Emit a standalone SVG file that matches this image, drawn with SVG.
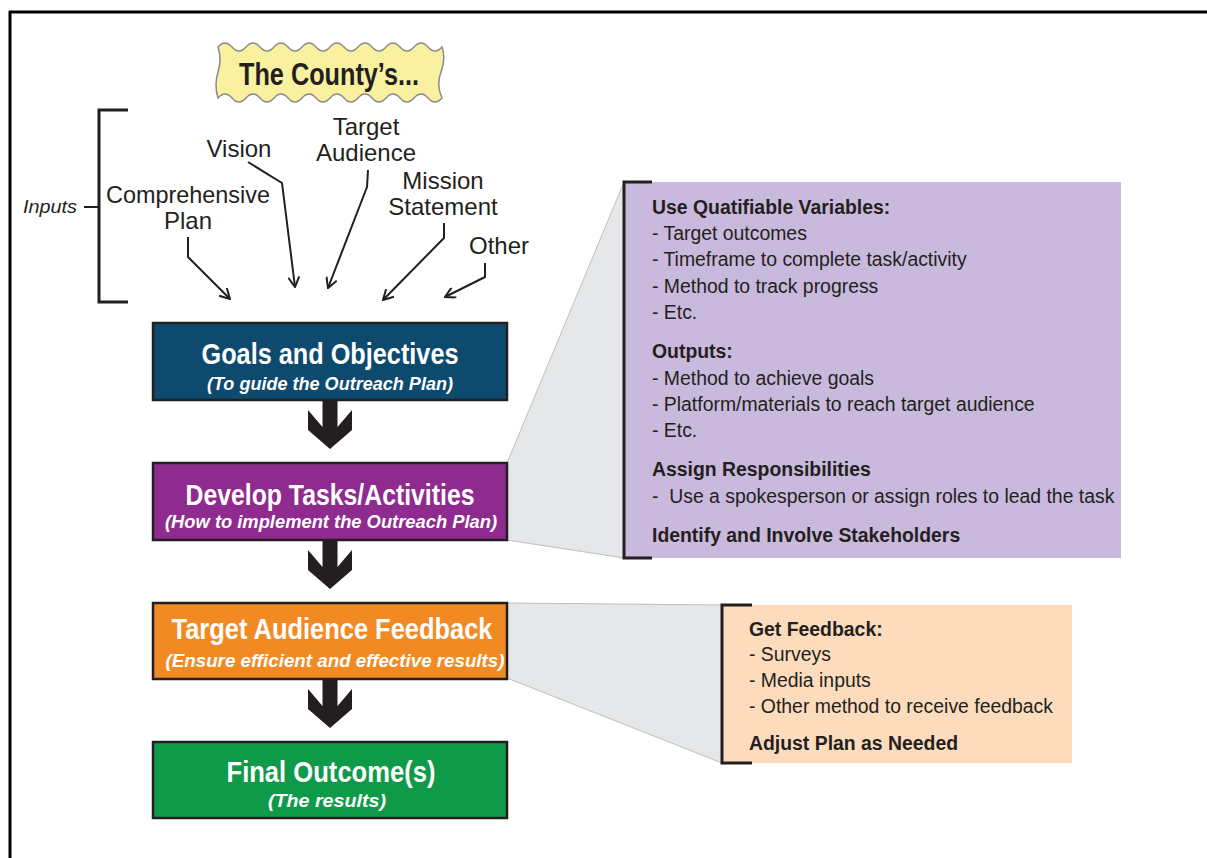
<svg xmlns="http://www.w3.org/2000/svg" width="1207" height="858" viewBox="0 0 1207 858">
<style>
.lbl{font-family:"Liberation Sans",Arial,sans-serif;font-size:24px;fill:#231f20;text-anchor:middle}
.ttl{font-family:"Liberation Sans",Arial,sans-serif;font-size:30px;font-weight:bold;fill:#ffffff;text-anchor:middle}
.sub{font-family:"Liberation Sans",Arial,sans-serif;font-size:18.5px;font-weight:bold;font-style:italic;fill:#ffffff;text-anchor:middle}
.pt{font-family:"Liberation Sans",Arial,sans-serif;font-size:19.4px;fill:#231f20}
.ph{font-family:"Liberation Sans",Arial,sans-serif;font-size:19.4px;font-weight:bold;fill:#231f20}
.box{stroke:#231f20;stroke-width:2.5}
.thin{fill:none;stroke:#231f20;stroke-width:2;stroke-linejoin:round}
.brk{fill:none;stroke:#231f20;stroke-width:3}
.callout{fill:#e6e7e8;stroke:#bcbec0;stroke-width:1}
</style>
<defs>
<marker id="open" viewBox="0 0 12 12" refX="11" refY="6" markerWidth="12" markerHeight="12" markerUnits="userSpaceOnUse" orient="auto">
<path d="M1,0.5 L11,6 L1,11.5" fill="none" stroke="#231f20" stroke-width="2"/>
</marker>
<path id="blockArrow" d="M-7.5,0 L7.5,0 L7.5,27 L22,10 L22,30 L0,49 L-22,30 L-22,10 L-7.5,27 Z" fill="#231f20"/>
</defs>
<rect x="0" y="0" width="1207" height="858" fill="#ffffff"/>
<!-- frame -->
<path d="M9,12 H1207 M10,11 V858" fill="none" stroke="#000" stroke-width="3"/>

<!-- connectors -->
<g id="connectors">
<polygon class="callout" points="507,463 624,182 624,558 507,540"/>
<polygon class="callout" points="507,603 722,605 722,763 507,678"/>
<path class="thin" d="M188,237 V257 L230,299" marker-end="url(#open)"/>
<path class="thin" d="M248,162 L282,183 L295,287" marker-end="url(#open)"/>
<path class="thin" d="M368,170 L367,187 L328,288" marker-end="url(#open)"/>
<path class="thin" d="M444,223 V238 L383,300" marker-end="url(#open)"/>
<path class="thin" d="M485,263 V277 L445,297" marker-end="url(#open)"/>
<use href="#blockArrow" x="330" y="400"/>
<use href="#blockArrow" x="330" y="540"/>
<use href="#blockArrow" x="330" y="679"/>
</g>

<!-- title -->
<g id="title">
<path d="M218,47 q7,-8 14,0 t14,0 t14,0 t14,0 t14,0 t14,0 t14,0 t14,0 t14,0 t14,0 t14,0 t14,0 t14,0 t14,0 t14,0 t14,0 q4,12 -1,25 t1,26 q-7,8 -14,0 t-14,0 t-14,0 t-14,0 t-14,0 t-14,0 t-14,0 t-14,0 t-14,0 t-14,0 t-14,0 t-14,0 t-14,0 t-14,0 t-14,0 t-14,0 q-4,-13 0,-26 t0,-25 Z" fill="#f9f0a0" stroke="#8a8a8a" stroke-width="1.5"/>
<text x="329" y="85" font-family="Liberation Sans, Arial, sans-serif" font-size="31" font-weight="bold" fill="#231f20" text-anchor="middle" textLength="180" lengthAdjust="spacingAndGlyphs">The County’s...</text>
</g>

<!-- inputs -->
<g id="inputs">
<path class="brk" d="M128,110 H99 V302 H128"/>
<path d="M84,207 H98" stroke="#231f20" stroke-width="2"/>
<text x="23" y="213" font-family="Liberation Sans, Arial, sans-serif" font-size="19" font-style="italic" fill="#231f20" textLength="54" lengthAdjust="spacingAndGlyphs">Inputs</text>
<text class="lbl" x="239" y="157">Vision</text>
<text class="lbl" x="366" y="135">Target</text>
<text class="lbl" x="366" y="161">Audience</text>
<text class="lbl" x="188" y="203" textLength="164" lengthAdjust="spacingAndGlyphs">Comprehensive</text>
<text class="lbl" x="188" y="229">Plan</text>
<text class="lbl" x="443" y="189">Mission</text>
<text class="lbl" x="443" y="215">Statement</text>
<text class="lbl" x="499" y="254">Other</text>
</g>

<g id="goals">
<rect class="box" x="153" y="323" width="354" height="77" fill="#0d4a6e"/>
<text class="ttl" x="330" y="364" textLength="257" lengthAdjust="spacingAndGlyphs">Goals and Objectives</text>
<text class="sub" x="330" y="390" textLength="246" lengthAdjust="spacingAndGlyphs">(To guide the Outreach Plan)</text>
</g>

<g id="develop">
<rect class="box" x="153" y="463" width="354" height="77" fill="#8f2a8f"/>
<text class="ttl" x="330" y="505" textLength="289" lengthAdjust="spacingAndGlyphs">Develop Tasks/Activities</text>
<text class="sub" x="331" y="528" textLength="332" lengthAdjust="spacingAndGlyphs">(How to implement the Outreach Plan)</text>
</g>

<g id="feedback">
<rect class="box" x="153" y="603" width="354" height="76" fill="#f28a24"/>
<text class="ttl" x="332" y="639" textLength="321" lengthAdjust="spacingAndGlyphs">Target Audience Feedback</text>
<text class="sub" x="335" y="667" textLength="339" lengthAdjust="spacingAndGlyphs">(Ensure efficient and effective results)</text>
</g>

<g id="outcome">
<rect class="box" x="153" y="742" width="354" height="76" fill="#0e9a48"/>
<text class="ttl" x="331" y="782" textLength="209" lengthAdjust="spacingAndGlyphs">Final Outcome(s)</text>
<text class="sub" x="327" y="807" textLength="118" lengthAdjust="spacingAndGlyphs">(The results)</text>
</g>

<g id="tasks-panel">
<rect x="624" y="182" width="497" height="376" fill="#c9b9dc"/>
<path class="brk" d="M652,182 H624 V558 H652"/>
<text class="ph" x="652" y="214">Use Quatifiable Variables:</text>
<text class="pt" x="652" y="240">- Target outcomes</text>
<text class="pt" x="652" y="266">- Timeframe to complete task/activity</text>
<text class="pt" x="652" y="293">- Method to track progress</text>
<text class="pt" x="652" y="319">- Etc.</text>
<text class="ph" x="652" y="358">Outputs:</text>
<text class="pt" x="652" y="385">- Method to achieve goals</text>
<text class="pt" x="652" y="411">- Platform/materials to reach target audience</text>
<text class="pt" x="652" y="437">- Etc.</text>
<text class="ph" x="652" y="476">Assign Responsibilities</text>
<text class="pt" x="652" y="503" style="white-space:pre" xml:space="preserve">-  Use a spokesperson or assign roles to lead the task</text>
<text class="ph" x="652" y="542">Identify and Involve Stakeholders</text>
</g>

<g id="feedback-panel">
<rect x="722" y="605" width="350" height="158" fill="#fddcbd"/>
<path class="brk" d="M752,605 H722 V763 H752"/>
<text class="ph" x="749" y="636">Get Feedback:</text>
<text class="pt" x="749" y="661">- Surveys</text>
<text class="pt" x="749" y="687">- Media inputs</text>
<text class="pt" x="749" y="713">- Other method to receive feedback</text>
<text class="ph" x="749" y="750">Adjust Plan as Needed</text>
</g>
</svg>
